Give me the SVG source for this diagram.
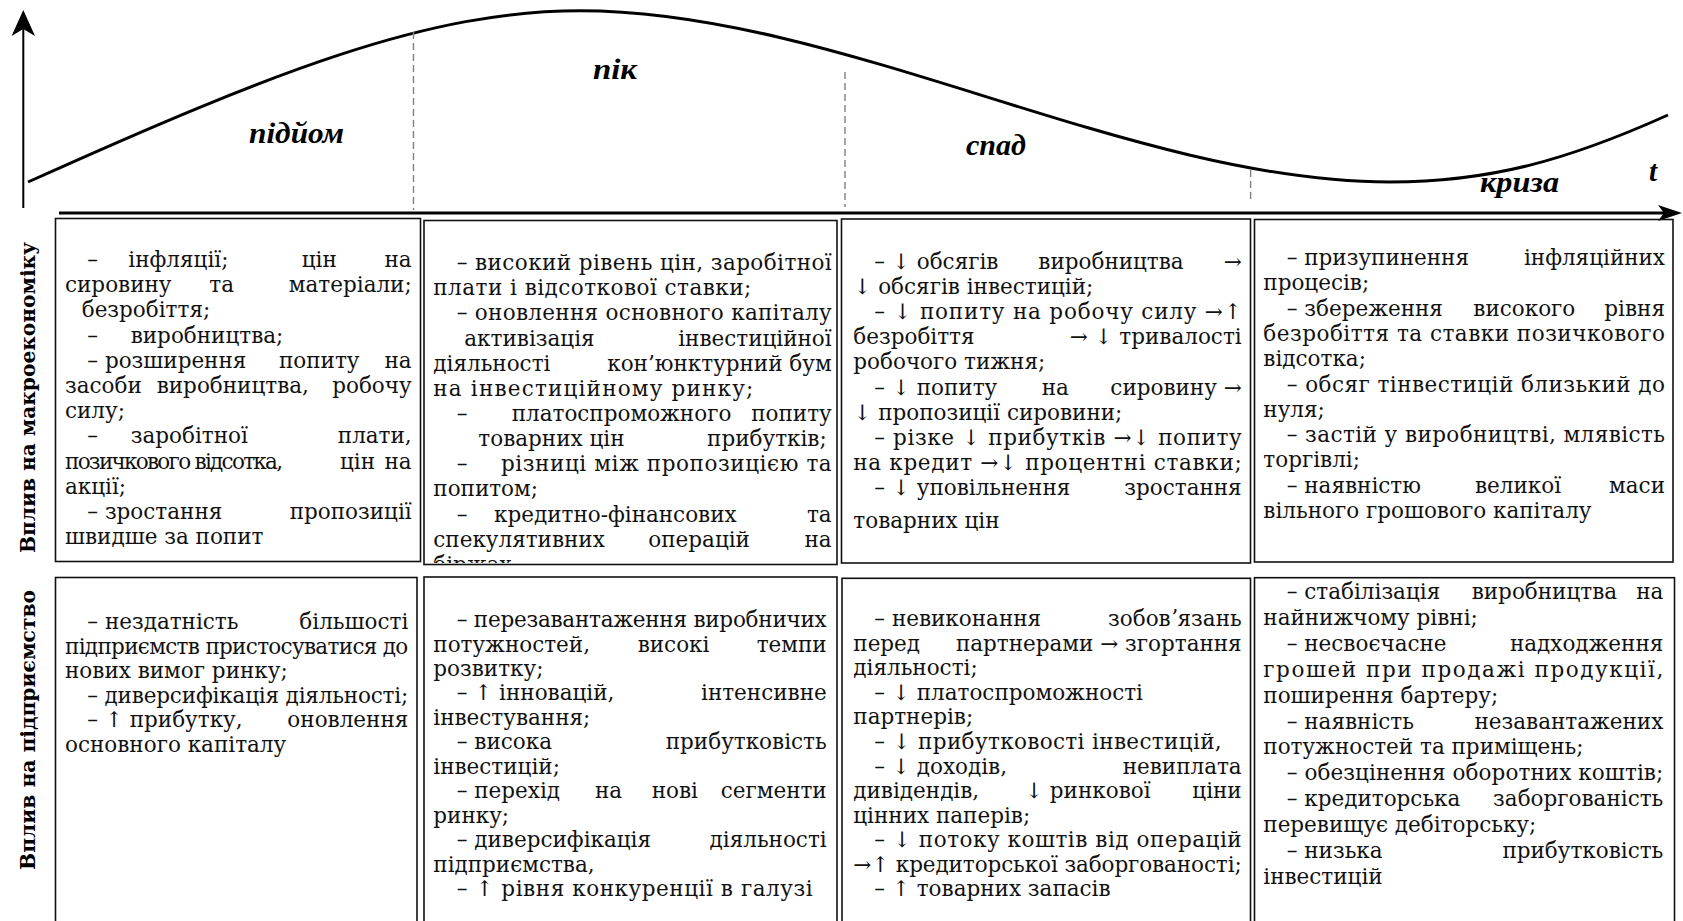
<svg xmlns="http://www.w3.org/2000/svg" width="1683" height="921" viewBox="0 0 1683 921">
<style>
.bg{fill:#fff}
.box{fill:none;stroke:#111;stroke-width:1.6}
.ax{stroke:#000;fill:none}
.dash{stroke:#808080;stroke-width:1.4;stroke-dasharray:7 4;fill:none}
.ph{font-family:"Liberation Serif","Times New Roman",serif;font-weight:bold;font-style:italic;font-size:29px;fill:#000}
.lab{font-family:"DejaVu Serif",serif;font-weight:bold;font-size:20.6px;fill:#000;text-anchor:middle}
.t{font-family:"DejaVu Serif",serif;font-size:21.5px;fill:#111}
.e{text-anchor:end}
</style>
<defs>
<clipPath id="clipB2"><rect x="424" y="221" width="413" height="342"/></clipPath>
</defs>
<rect class="bg" x="0" y="0" width="1683" height="921"/>

<g id="chart">
  <line class="ax" x1="23.3" y1="208" x2="23.3" y2="26" stroke-width="2"/>
  <polygon points="23.3,10 35,36 23.3,29 11.6,36" fill="#000"/>
  <line class="ax" x1="59" y1="213" x2="1668" y2="213" stroke-width="3"/>
  <polygon points="1682,213 1658,205 1664,213 1658,221" fill="#000"/>
  <path class="ax" stroke-width="3" d="M28,182 C278,69.5 430,10.7 580,10.7 C840,10.7 1130,182 1390,182 C1490,182 1568,160 1668,115"/>
  <line class="dash" x1="413.5" y1="32" x2="413.5" y2="210"/>
  <line class="dash" x1="845" y1="72" x2="845" y2="207"/>
  <line class="dash" x1="1250.6" y1="170" x2="1250.6" y2="202"/>
</g>

<g id="phases">
  <text class="ph" x="249" y="143" textLength="95" lengthAdjust="spacingAndGlyphs">підйом</text>
  <text class="ph" x="593" y="79" textLength="44" lengthAdjust="spacingAndGlyphs">пік</text>
  <text class="ph" x="966" y="155" textLength="60" lengthAdjust="spacingAndGlyphs">спад</text>
  <text class="ph" x="1480" y="192" textLength="79" lengthAdjust="spacingAndGlyphs">криза</text>
  <text class="ph" x="1649" y="181">t</text>
</g>

<g id="row-labels">
  <text class="lab" transform="translate(35,397.5) rotate(-90)" textLength="311" lengthAdjust="spacingAndGlyphs">Вплив на макроекономіку</text>
  <text class="lab" transform="translate(35,730) rotate(-90)" textLength="280" lengthAdjust="spacingAndGlyphs">Вплив на підприємство</text>
</g>

<g id="macro-pidyom">
  <rect class="box" x="55.5" y="218.5" width="365" height="343"/>
  <text class="t" x="87.3" y="267">–</text><text class="t" x="128.3" y="267">інфляції;</text><text class="t" x="301.7" y="267">цін</text><text class="t e" x="411.7" y="267">на</text>
  <text class="t" x="65" y="292.2">сировину</text><text class="t" x="209.3" y="292.2">та</text><text class="t e" x="411.7" y="292.2">матеріали;</text>
  <text class="t" x="81.7" y="317.4">безробіття;</text>
  <text class="t" x="87.3" y="342.6">–</text><text class="t" x="130.7" y="342.6">виробництва;</text>
  <text class="t" x="87.3" y="367.8">– розширення</text><text class="t" x="279" y="367.8">попиту</text><text class="t e" x="411.7" y="367.8">на</text>
  <text class="t" x="65" y="393">засоби</text><text class="t" x="156.7" y="393">виробництва,</text><text class="t e" x="411.7" y="393">робочу</text>
  <text class="t" x="65" y="418.2">силу;</text>
  <text class="t" x="87.3" y="443.4">–</text><text class="t" x="130.7" y="443.4">заробітної</text><text class="t e" x="411.7" y="443.4">плати,</text>
  <text class="t" x="65" y="468.6" textLength="218" lengthAdjust="spacing">позичкового відсотка,</text><text class="t" x="340" y="468.6">цін</text><text class="t e" x="411.7" y="468.6">на</text>
  <text class="t" x="65" y="493.8">акції;</text>
  <text class="t" x="87.3" y="519">– зростання</text><text class="t e" x="411.7" y="519">пропозиції</text>
  <text class="t" x="65" y="544.2">швидше за попит</text>
</g>

<g id="macro-pik">
  <rect class="box" x="424" y="220.5" width="413" height="344"/>
  <g clip-path="url(#clipB2)">
  <text class="t" x="456.7" y="270" textLength="375" lengthAdjust="spacing">– високий рівень цін, заробітної</text>
  <text class="t" x="433.3" y="295.2" textLength="318" lengthAdjust="spacing">плати і відсоткової ставки;</text>
  <text class="t" x="456.7" y="320.3" textLength="375" lengthAdjust="spacing">– оновлення основного капіталу</text>
  <text class="t" x="464.3" y="345.5">активізація</text><text class="t e" x="831.7" y="345.5">інвестиційної</text>
  <text class="t" x="433.3" y="370.6">діяльності</text><text class="t e" x="831.7" y="370.6">кон’юнктурний бум</text>
  <text class="t" x="433.3" y="395.8" textLength="320" lengthAdjust="spacing">на інвестиційному ринку;</text>
  <text class="t" x="456.7" y="420.9">–</text><text class="t" x="511.7" y="420.9">платоспроможного</text><text class="t e" x="831.7" y="420.9">попиту</text>
  <text class="t" x="478.3" y="446.1">товарних цін</text><text class="t e" x="826.7" y="446.1">прибутків;</text>
  <text class="t" x="456.7" y="471.2">–</text><text class="t" x="501" y="471.2" textLength="330.7" lengthAdjust="spacing">різниці між пропозицією та</text>
  <text class="t" x="433.3" y="496.4">попитом;</text>
  <text class="t" x="456.7" y="521.5">–</text><text class="t" x="494" y="521.5">кредитно-фінансових</text><text class="t e" x="831.7" y="521.5">та</text>
  <text class="t" x="433.3" y="546.7">спекулятивних</text><text class="t" x="648.3" y="546.7">операцій</text><text class="t e" x="831.7" y="546.7">на</text>
  <text class="t" x="433.3" y="571.8">біржах</text>
  </g>
</g>

<g id="macro-spad">
  <rect class="box" x="841.5" y="219" width="409" height="344"/>
  <text class="t" x="874.3" y="268.5">– ↓ обсягів</text><text class="t" x="1038.3" y="268.5">виробництва</text><text class="t e" x="1241.7" y="268.5">→</text>
  <text class="t" x="853.3" y="293.7">↓ обсягів інвестицій;</text>
  <text class="t" x="874.3" y="318.9" textLength="367.4" lengthAdjust="spacing">– ↓ попиту на робочу силу →↑</text>
  <text class="t" x="853.3" y="344.1">безробіття</text><text class="t e" x="1241.7" y="344.1">→ ↓ тривалості</text>
  <text class="t" x="853.3" y="369.3">робочого тижня;</text>
  <text class="t" x="874.3" y="394.5">– ↓ попиту</text><text class="t" x="1041.7" y="394.5">на</text><text class="t e" x="1241.7" y="394.5">сировину →</text>
  <text class="t" x="853.3" y="419.7">↓ пропозиції сировини;</text>
  <text class="t" x="874.3" y="444.9" textLength="367.4" lengthAdjust="spacing">– різке ↓ прибутків →↓ попиту</text>
  <text class="t" x="853.3" y="470.1" textLength="388.4" lengthAdjust="spacing">на кредит →↓ процентні ставки;</text>
  <text class="t" x="874.3" y="495.3">– ↓ уповільнення</text><text class="t e" x="1241.7" y="495.3">зростання</text>
  <text class="t" x="853.3" y="528">товарних цін</text>
</g>

<g id="macro-kryza">
  <rect class="box" x="1254.5" y="219.5" width="418.5" height="342.5"/>
  <text class="t" x="1286.7" y="265">– призупинення</text><text class="t e" x="1665" y="265">інфляційних</text>
  <text class="t" x="1263.3" y="290.3">процесів;</text>
  <text class="t" x="1286.7" y="315.6">– збереження</text><text class="t" x="1473.3" y="315.6">високого</text><text class="t e" x="1665" y="315.6">рівня</text>
  <text class="t" x="1263.3" y="340.9" textLength="401.7" lengthAdjust="spacing">безробіття та ставки позичкового</text>
  <text class="t" x="1263.3" y="366.2">відсотка;</text>
  <text class="t" x="1286.7" y="391.5" textLength="378.3" lengthAdjust="spacing">– обсяг тінвестицій близький до</text>
  <text class="t" x="1263.3" y="416.8">нуля;</text>
  <text class="t" x="1286.7" y="442.1" textLength="378.3" lengthAdjust="spacing">– застій у виробництві, млявість</text>
  <text class="t" x="1263.3" y="467.4">торгівлі;</text>
  <text class="t" x="1286.7" y="492.7">– наявністю</text><text class="t" x="1475" y="492.7">великої</text><text class="t e" x="1665" y="492.7">маси</text>
  <text class="t" x="1263.3" y="518">вільного грошового капіталу</text>
</g>

<g id="firm-pidyom">
  <rect class="box" x="55.5" y="577.5" width="361.5" height="360"/>
  <text class="t" x="87.3" y="629">– нездатність</text><text class="t e" x="408.3" y="629">більшості</text>
  <text class="t" x="65" y="653.6" textLength="343.3" lengthAdjust="spacing">підприємств пристосуватися до</text>
  <text class="t" x="65" y="678.2">нових вимог ринку;</text>
  <text class="t" x="87.3" y="702.8" textLength="321" lengthAdjust="spacing">– диверсифікація діяльності;</text>
  <text class="t" x="87.3" y="727.4">– ↑ прибутку,</text><text class="t e" x="408.3" y="727.4">оновлення</text>
  <text class="t" x="65" y="752">основного капіталу</text>
</g>

<g id="firm-pik">
  <rect class="box" x="424" y="577" width="413" height="360"/>
  <text class="t" x="456.7" y="627" textLength="370" lengthAdjust="spacing">– перезавантаження виробничих</text>
  <text class="t" x="433.3" y="651.5">потужностей,</text><text class="t" x="637.7" y="651.5">високі</text><text class="t e" x="826.7" y="651.5">темпи</text>
  <text class="t" x="433.3" y="675.9">розвитку;</text>
  <text class="t" x="456.7" y="700.4">– ↑ інновацій,</text><text class="t e" x="826.7" y="700.4">інтенсивне</text>
  <text class="t" x="433.3" y="724.8">інвестування;</text>
  <text class="t" x="456.7" y="749.3">– висока</text><text class="t e" x="826.7" y="749.3">прибутковість</text>
  <text class="t" x="433.3" y="773.7">інвестицій;</text>
  <text class="t" x="456.7" y="798.2">– перехід</text><text class="t" x="595" y="798.2">на</text><text class="t" x="651.7" y="798.2">нові</text><text class="t e" x="826.7" y="798.2">сегменти</text>
  <text class="t" x="433.3" y="822.6">ринку;</text>
  <text class="t" x="456.7" y="847.1">– диверсифікація</text><text class="t e" x="826.7" y="847.1">діяльності</text>
  <text class="t" x="433.3" y="871.5">підприємства,</text>
  <text class="t" x="456.7" y="896" textLength="356" lengthAdjust="spacing">– ↑ рівня конкуренції в галузі</text>
</g>

<g id="firm-spad">
  <rect class="box" x="842" y="578.3" width="408.5" height="360"/>
  <text class="t" x="874.3" y="626">– невиконання</text><text class="t e" x="1241.7" y="626">зобовʼязань</text>
  <text class="t" x="853.3" y="650.6">перед</text><text class="t e" x="1241.7" y="650.6">партнерами → згортання</text>
  <text class="t" x="853.3" y="675.2">діяльності;</text>
  <text class="t" x="874.3" y="699.7">– ↓ платоспроможності</text>
  <text class="t" x="853.3" y="724.3">партнерів;</text>
  <text class="t" x="874.3" y="748.9" textLength="347.4" lengthAdjust="spacing">– ↓ прибутковості інвестицій,</text>
  <text class="t" x="874.3" y="773.5">– ↓ доходів,</text><text class="t e" x="1241.7" y="773.5">невиплата</text>
  <text class="t" x="853.3" y="798.1">дивідендів,</text><text class="t" x="1025" y="798.1">↓ ринкової</text><text class="t e" x="1241.7" y="798.1">ціни</text>
  <text class="t" x="853.3" y="822.6">цінних паперів;</text>
  <text class="t" x="874.3" y="847.2" textLength="367.4" lengthAdjust="spacing">– ↓ потоку коштів від операцій</text>
  <text class="t" x="853.3" y="871.8" textLength="388.4" lengthAdjust="spacing">→↑ кредиторської заборгованості;</text>
  <text class="t" x="874.3" y="896.4">– ↑ товарних запасів</text>
</g>

<g id="firm-kryza">
  <rect class="box" x="1254.5" y="577.7" width="420" height="360"/>
  <text class="t" x="1286.7" y="599">– стабілізація</text><text class="t" x="1471.7" y="599">виробництва</text><text class="t e" x="1663.3" y="599">на</text>
  <text class="t" x="1263.3" y="624.9">найнижчому рівні;</text>
  <text class="t" x="1286.7" y="650.8">– несвоєчасне</text><text class="t e" x="1663.3" y="650.8">надходження</text>
  <text class="t" x="1263.3" y="676.7" textLength="400" lengthAdjust="spacing">грошей при продажі продукції,</text>
  <text class="t" x="1263.3" y="702.6">поширення бартеру;</text>
  <text class="t" x="1286.7" y="728.5">– наявність</text><text class="t e" x="1663.3" y="728.5">незавантажених</text>
  <text class="t" x="1263.3" y="754.4">потужностей та приміщень;</text>
  <text class="t" x="1286.7" y="780.3" textLength="376.6" lengthAdjust="spacing">– обезцінення оборотних коштів;</text>
  <text class="t" x="1286.7" y="806.2">– кредиторська</text><text class="t e" x="1663.3" y="806.2">заборгованість</text>
  <text class="t" x="1263.3" y="832.1">перевищує дебіторську;</text>
  <text class="t" x="1286.7" y="858">– низька</text><text class="t e" x="1663.3" y="858">прибутковість</text>
  <text class="t" x="1263.3" y="883.9">інвестицій</text>
</g>
</svg>
